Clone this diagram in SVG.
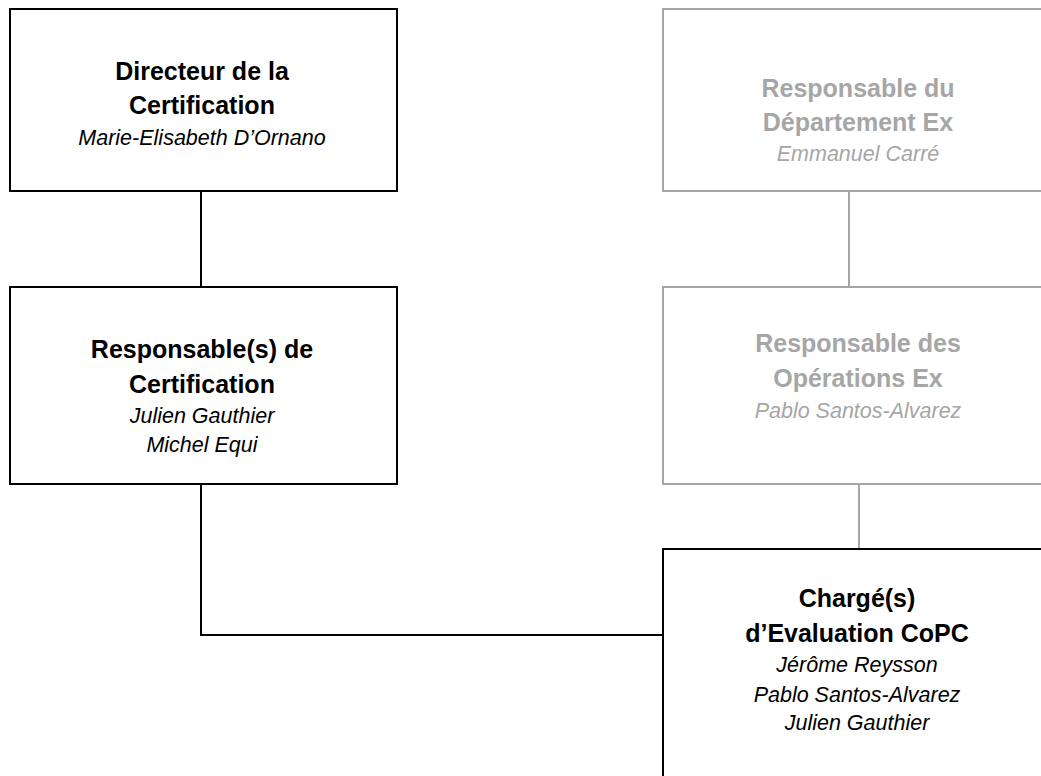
<svg xmlns="http://www.w3.org/2000/svg" width="1041" height="776" viewBox="0 0 1041 776">
<style>
.box{fill:#fff;stroke:#000;stroke-width:2}
.gbox{fill:#fff;stroke:#a6a6a6;stroke-width:2}
.t{font-family:"Liberation Sans",Arial,sans-serif;font-weight:bold;font-size:25px;text-anchor:middle;fill:#000}
.i{font-family:"Liberation Sans",Arial,sans-serif;font-style:italic;font-size:21.5px;text-anchor:middle;fill:#000}
.g{fill:#a6a6a6}
.c{fill:none;stroke:#000;stroke-width:2}
.gc{fill:none;stroke:#a6a6a6;stroke-width:2}
</style>
<rect width="1041" height="776" fill="#fff"/>
<g id="connectors">
<line class="c" x1="201" y1="191" x2="201" y2="287"/>
<line class="gc" x1="849" y1="191" x2="849" y2="287"/>
<line class="gc" x1="859" y1="484" x2="859" y2="549"/>
<polyline class="c" points="201,484 201,635 663,635"/>
</g>
<g id="directeur">
<rect class="box" x="10" y="9" width="387" height="182"/>
<text class="t" x="202" y="80">Directeur de la</text>
<text class="t" x="202" y="114">Certification</text>
<text class="i" x="202" y="145">Marie-Elisabeth D’Ornano</text>
</g>
<g id="resp-dept">
<rect class="gbox" x="663" y="9" width="400" height="182"/>
<text class="t g" x="858" y="97">Responsable du</text>
<text class="t g" x="858" y="131">Département Ex</text>
<text class="i g" x="858" y="161">Emmanuel Carré</text>
</g>
<g id="resp-cert">
<rect class="box" x="10" y="287" width="387" height="197"/>
<text class="t" x="202" y="358">Responsable(s) de</text>
<text class="t" x="202" y="393">Certification</text>
<text class="i" x="202" y="423">Julien Gauthier</text>
<text class="i" x="202" y="452">Michel Equi</text>
</g>
<g id="resp-ops">
<rect class="gbox" x="663" y="287" width="400" height="197"/>
<text class="t g" x="858" y="352">Responsable des</text>
<text class="t g" x="858" y="387">Opérations Ex</text>
<text class="i g" x="858" y="418">Pablo Santos-Alvarez</text>
</g>
<g id="charge">
<rect class="box" x="663" y="549" width="400" height="240"/>
<text class="t" x="857" y="607">Chargé(s)</text>
<text class="t" x="857" y="642">d’Evaluation CoPC</text>
<text class="i" x="857" y="672">Jérôme Reysson</text>
<text class="i" x="857" y="702">Pablo Santos-Alvarez</text>
<text class="i" x="857" y="730">Julien Gauthier</text>
</g>
</svg>
